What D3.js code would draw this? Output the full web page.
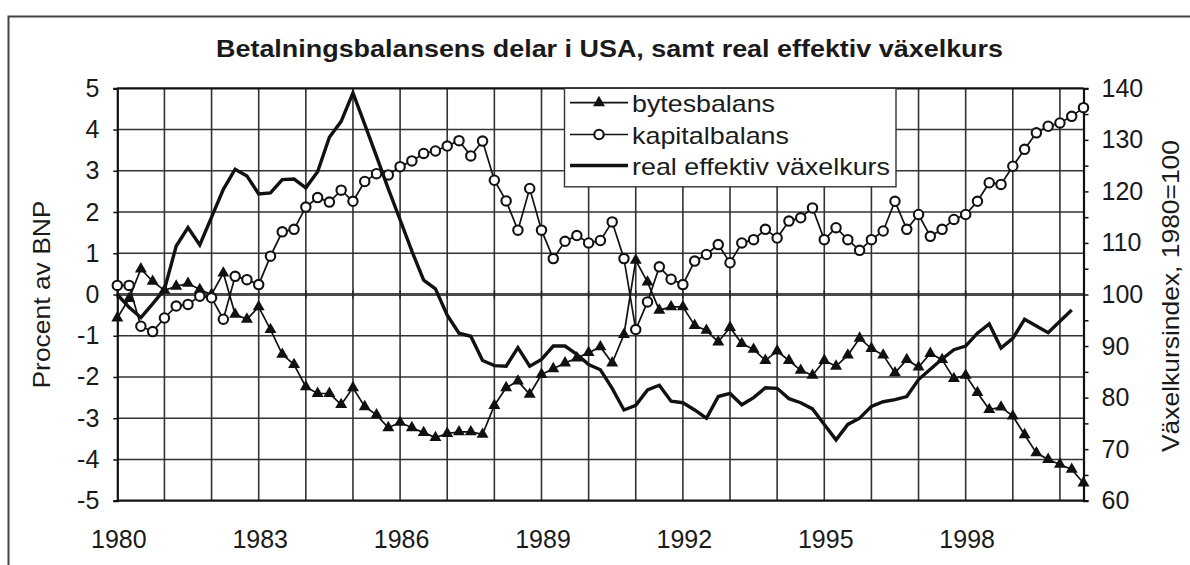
<!DOCTYPE html>
<html>
<head>
<meta charset="utf-8">
<script src="https://cdn.jsdelivr.net/npm/d3@7"></script>
<style>
  html, body { margin: 0; padding: 0; background: #fff; }
  svg { display: block; }
  text { font-family: "Liberation Sans", Arial, sans-serif; fill: #1a1a1a; }
</style>
</head>
<body>
<svg id="chart" width="1190" height="565"></svg>
<script>
// ---------- data ----------
const title = "Betalningsbalansens delar i USA, samt real effektiv växelkurs";
const years = d3.range(1980, 2001);
const quarters = years.flatMap(y => ["K1","K2","K3","K4"].map(q => y + q)).slice(0, 83); // 1980K1 .. 2000K3
const xTickLabels = ["1980","1983","1986","1989","1992","1995","1998"];
const yLeftTicks = [5,4,3,2,1,0,-1,-2,-3,-4,-5];
const yRightTicks = [140,130,120,110,100,90,80,70,60];
const seriesNames = ["bytesbalans","kapitalbalans","real effektiv växelkurs"];

const bytesbalans = [
 -0.57,-0.10, 0.62, 0.32, 0.10, 0.20, 0.27, 0.12, 0.00, 0.52,
 -0.48,-0.60,-0.30,-0.85,-1.45,-1.70,-2.24,-2.40,-2.40,-2.67,
 -2.26,-2.72,-2.92,-3.23,-3.10,-3.23,-3.35,-3.47,-3.37,-3.33,
 -3.33,-3.39,-2.69,-2.26,-2.10,-2.42,-1.94,-1.80,-1.66,-1.54,
 -1.41,-1.27,-1.66,-0.97, 0.83, 0.30,-0.38,-0.30,-0.30,-0.75,
 -0.87,-1.15,-0.80,-1.19,-1.33,-1.60,-1.37,-1.60,-1.84,-1.96,
 -1.60,-1.74,-1.47,-1.06,-1.31,-1.47,-1.90,-1.58,-1.76,-1.43,
 -1.58,-2.04,-1.96,-2.38,-2.79,-2.73,-2.95,-3.40,-3.84,-4.00,
 -4.12,-4.24,-4.57
];
const kapitalbalans = [
  0.22, 0.22,-0.77,-0.90,-0.57,-0.28,-0.24,-0.04,-0.08,-0.60,
  0.44, 0.36, 0.24, 0.93, 1.52, 1.58, 2.12, 2.35, 2.24, 2.53,
  2.26, 2.74, 2.93, 2.90, 3.10, 3.24, 3.42, 3.48, 3.60, 3.73,
  3.36, 3.72, 2.77, 2.27, 1.56, 2.57, 1.56, 0.87, 1.29, 1.43,
  1.25, 1.31, 1.76, 0.87,-0.85,-0.18, 0.67, 0.37, 0.24, 0.81,
  0.97, 1.21, 0.77, 1.25, 1.33, 1.58, 1.37, 1.78, 1.86, 2.10,
  1.33, 1.62, 1.33, 1.07, 1.33, 1.54, 2.26, 1.58, 1.94, 1.41,
  1.58, 1.82, 1.94, 2.26, 2.71, 2.67, 3.11, 3.52, 3.92, 4.08,
  4.16, 4.32, 4.53
];
const vaxelkurs = [
  100.0, 97.5, 95.5, 98.2,101.0,109.4,113.0,109.6,115.0,120.4,
  124.3,123.0,119.5,119.7,122.3,122.4,120.7,123.8,130.5,133.6,
  139.1,133.0,126.8,120.5,114.5,108.4,102.8,101.1, 96.0, 92.5,
   91.9, 87.2, 86.2, 86.1, 89.7, 86.1, 87.4, 90.0, 90.0, 88.4,
   86.4, 85.4, 81.8, 77.6, 78.5, 81.5, 82.4, 79.3, 79.0, 77.6,
   76.0, 80.2, 80.8, 78.6, 80.0, 81.9, 81.8, 79.8, 79.0, 77.8,
   74.8, 71.8, 74.8, 76.0, 78.3, 79.2, 79.6, 80.2, 83.5, 85.5,
   87.5, 89.3, 90.0, 92.5, 94.3, 89.6, 91.5, 95.2, 93.9, 92.6,
   94.8, 97.0
];

// ---------- layout ----------
const svg = d3.select("#chart");
const L = 117.3, R = 1083.5, T = 88.3, B = 500.7;

const x = d3.scalePoint().domain(quarters).range([L, R]);
const yL = d3.scaleLinear().domain([-5, 5]).range([B, T]);
const yR = d3.scaleLinear().domain([60, 140]).range([B, T]);

// outer frame
svg.append("rect").attr("x", 8.5).attr("y", 16.5).attr("width", 1300).attr("height", 700)
  .attr("fill", "none").attr("stroke", "#444").attr("stroke-width", 2);

// title
svg.append("text").attr("x", 609.5).attr("y", 57).attr("text-anchor", "middle")
  .attr("font-size", 24).attr("font-weight", "bold")
  .attr("textLength", 787).attr("lengthAdjust", "spacingAndGlyphs")
  .text(title);

// gridlines
const grid = svg.append("g").attr("stroke", "#333").attr("stroke-width", 1.6);
quarters.forEach((q, i) => {
  if (i % 4 === 0 && i > 0) {
    grid.append("line").attr("x1", x(q)).attr("x2", x(q)).attr("y1", T).attr("y2", B);
  }
});
yLeftTicks.filter(v => v !== 0 && Math.abs(v) !== 5).forEach(v => {
  grid.append("line").attr("x1", L).attr("x2", R).attr("y1", yL(v)).attr("y2", yL(v));
});

// category axis on 0 line
svg.append("line").attr("x1", L).attr("x2", R).attr("y1", yL(0)).attr("y2", yL(0))
  .attr("stroke", "#4a4a4a").attr("stroke-width", 3);
const xAxisTicks = svg.append("g").attr("stroke", "#222").attr("stroke-width", 1.5);
quarters.forEach((q, i) => {
  if (i % 4 === 0) {
    xAxisTicks.append("line").attr("x1", x(q)).attr("x2", x(q)).attr("y1", yL(0) - 4).attr("y2", yL(0) + 4);
  }
});

// plot border / axes
const border = svg.append("g").attr("stroke", "#111").attr("stroke-width", 2.2).attr("fill", "none");
border.append("line").attr("x1", L).attr("x2", R).attr("y1", T).attr("y2", T);
border.append("line").attr("x1", L).attr("x2", R).attr("y1", B).attr("y2", B);

// left axis
const leftAxis = d3.axisLeft(yL).tickValues(yLeftTicks).tickSize(4).tickPadding(14).tickFormat(d3.format("d"));
const gl = svg.append("g").attr("transform", `translate(${L},0)`).call(leftAxis);
gl.select(".domain").attr("stroke", "#111").attr("stroke-width", 2.2);
gl.selectAll(".tick line").attr("stroke", "#111").attr("stroke-width", 1.5);
gl.selectAll(".tick text").attr("font-size", 25).attr("font-family", "Liberation Sans, Arial, sans-serif").attr("fill", "#1a1a1a")
  .text(d => d < 0 ? "-" + Math.abs(d) : d);

// right axis
const rightAxis = d3.axisRight(yR).tickValues(d3.range(60, 141, 5)).tickSize(5).tickPadding(13)
  .tickFormat(d => (yRightTicks.includes(d) ? d : ""));
const gr = svg.append("g").attr("transform", `translate(${R},0)`).call(rightAxis);
gr.select(".domain").attr("stroke", "#111").attr("stroke-width", 2.2);
gr.selectAll(".tick line").attr("stroke", "#111").attr("stroke-width", 1.5);
gr.selectAll(".tick text").attr("font-size", 25).attr("font-family", "Liberation Sans, Arial, sans-serif").attr("fill", "#1a1a1a");

// bottom labels
svg.append("g").selectAll("text").data(xTickLabels).join("text")
  .attr("x", (d) => x(d + "K1") + 1.5).attr("y", 548).attr("text-anchor", "middle")
  .attr("font-size", 25).text(d => d);

// axis titles
svg.append("text").attr("transform", "translate(41,294.5) rotate(-90)").attr("text-anchor", "middle")
  .attr("dominant-baseline", "central").attr("font-size", 24)
  .attr("textLength", 188).attr("lengthAdjust", "spacingAndGlyphs").text("Procent av BNP");
svg.append("text").attr("transform", "translate(1170,296) rotate(-90)").attr("text-anchor", "middle")
  .attr("dominant-baseline", "central").attr("font-size", 24)
  .attr("textLength", 312).attr("lengthAdjust", "spacingAndGlyphs").text("Växelkursindex, 1980=100");

// lines
const lineL = d3.line().x((d, i) => x(quarters[i])).y(d => yL(d));
const lineR = d3.line().x((d, i) => x(quarters[i])).y(d => yR(d));
const triSym = d3.symbol(d3.symbolTriangle, 62);

svg.append("path").datum(bytesbalans).attr("d", lineL).attr("fill", "none").attr("stroke", "#111").attr("stroke-width", 1.7);
svg.append("g").selectAll("path").data(bytesbalans).join("path")
  .attr("transform", (d, i) => `translate(${x(quarters[i])},${yL(d)})`)
  .attr("d", triSym).attr("fill", "#111");

svg.append("path").datum(kapitalbalans).attr("d", lineL).attr("fill", "none").attr("stroke", "#111").attr("stroke-width", 1.7);
svg.append("g").selectAll("circle").data(kapitalbalans).join("circle")
  .attr("cx", (d, i) => x(quarters[i])).attr("cy", d => yL(d)).attr("r", 4.7)
  .attr("fill", "#fff").attr("stroke", "#111").attr("stroke-width", 2.1);

svg.append("path").datum(vaxelkurs).attr("d", lineR).attr("fill", "none").attr("stroke", "#111")
  .attr("stroke-width", 3.4).attr("stroke-linejoin", "miter");

// legend
const lg = svg.append("g");
lg.append("rect").attr("x", 564.5).attr("y", T).attr("width", 331.5).attr("height", 98.5)
  .attr("fill", "#fff").attr("stroke", "#333").attr("stroke-width", 1.4);
const legY = [102.7, 134.5, 165.5];
const legLen = [143, 157, 258];
seriesNames.forEach((name, k) => {
  const yy = legY[k];
  lg.append("line").attr("x1", 570).attr("x2", 628).attr("y1", yy).attr("y2", yy)
    .attr("stroke", "#111").attr("stroke-width", k === 2 ? 3.4 : 1.7);
  if (k === 0) {
    lg.append("path").attr("transform", `translate(599,${yy})`).attr("d", triSym).attr("fill", "#111");
  } else if (k === 1) {
    lg.append("circle").attr("cx", 599).attr("cy", yy).attr("r", 4.7).attr("fill", "#fff").attr("stroke", "#111").attr("stroke-width", 2.1);
  }
  lg.append("text").attr("x", 632).attr("y", yy + 9).attr("font-size", 24)
    .attr("textLength", legLen[k]).attr("lengthAdjust", "spacingAndGlyphs").text(name);
});
</script>
</body>
</html>
